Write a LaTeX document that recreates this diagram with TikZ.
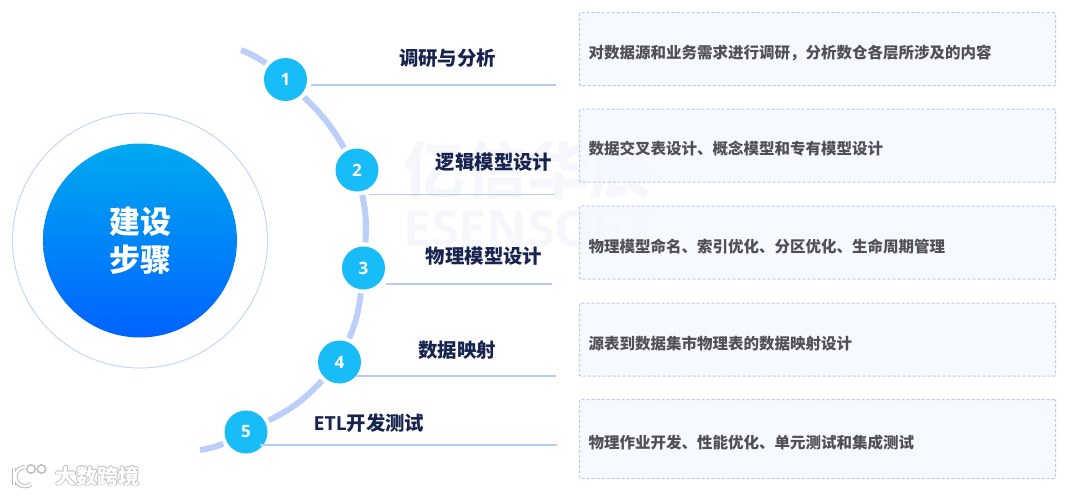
\documentclass[tikz,border=0pt]{standalone}
\usepackage{fontspec}
\setmainfont{Noto Sans CJK SC}
\setsansfont{Open Sans}
\usetikzlibrary{positioning}
\definecolor{trackblue}{HTML}{BCCFFB}
\definecolor{ringblue}{HTML}{BFD3F7}
\definecolor{stepblue}{HTML}{18BCF8}
\definecolor{linkblue}{HTML}{B4CAF7}
\definecolor{boxfill}{HTML}{F5F8FF}
\definecolor{boxline}{HTML}{B9C9F0}
\definecolor{titlenavy}{HTML}{182450}
\definecolor{descgray}{HTML}{50505A}
\definecolor{markblue}{HTML}{F5F7FD}
\definecolor{markgray}{HTML}{BDBDBD}
\definecolor{centertop}{HTML}{00AAF0}
\definecolor{centerbottom}{HTML}{0062FF}
\tikzset{
  stepnode/.style={circle,fill=stepblue,minimum size=43pt,inner sep=0pt,outer sep=4pt,text=white,font=\sffamily\bfseries\fontsize{17}{17}\selectfont},
  track/.style={draw=trackblue,line width=6pt},
  link/.style={draw=linkblue,line width=1.5pt},
  title/.style={text=titlenavy,font=\bfseries\fontsize{19.4}{19.4}\selectfont,inner sep=0pt},
  descbox/.style={draw=boxline,fill=boxfill,fill opacity=.9,dash pattern=on 3pt off 2pt,line width=1.1pt,rounded corners=1pt,minimum width=476pt,anchor=north west,inner sep=0pt},
  desc/.style={text=descgray,font=\bfseries\fontsize{15.5}{15.5}\selectfont,inner sep=0pt,anchor=west},
  logotext/.style={font=\bfseries\fontsize{21}{21}\selectfont,inner sep=0pt,anchor=west},
  logoo/.style={circle,line width=1.5pt,minimum size=8.5pt,inner sep=0pt},
}
\begin{document}
\begin{tikzpicture}[x=1pt,y=-1pt]
\useasboundingbox (0,0) rectangle (1080,496);

% faint mark behind
\node[text=markblue,font=\bfseries\fontsize{62}{62}\selectfont,inner sep=0pt] (markcn) at (527,170) {亿信华辰};
\node[text=markblue,font=\sffamily\bfseries\fontsize{50}{50}\selectfont,inner sep=0pt] (marken) at (527,229) {ESENSOFT};

% centre
\node[circle,draw=ringblue,line width=.9pt,minimum size=255pt,inner sep=0pt] (ring) at (140,240.5) {};
\node[circle,inner sep=0pt,minimum size=194pt,top color=centertop,bottom color=centerbottom,text=white,align=center,font=\bfseries\fontsize{31}{38}\selectfont] (center) at (140,240.5) {建设\\步骤};

% steps on the curve
\node[stepnode] (s1) at (285.5,79.5) {1};
\node[stepnode] (s2) at (357,170) {2};
\node[stepnode] (s3) at (363.5,268) {3};
\node[stepnode] (s4) at (339.5,362) {4};
\node[stepnode] (s5) at (246,432) {5};
\coordinate (top) at (241,50);
\coordinate (bottom) at (200,450);
\draw[track] (top) to[bend left=6] (s1);
\draw[track] (s1) to[bend left=8] (s2);
\draw[track] (s2) to[bend left=8] (s3);
\draw[track] (s3) to[bend left=8] (s4);
\draw[track] (s4) to[bend left=10] (s5);
\draw[track] (s5) to[bend left=6] (bottom);

% rules under the titles
\foreach \n/\xa/\xb/\y in {1/311/556/85,2/369/555/194.5,3/386/552/284,4/356/556/376,5/260/557/445}{
    \coordinate (a\n) at (\xa,\y);
    \coordinate (b\n) at (\xb,\y);
    \draw[link] (a\n)--(b\n);
}

\node[title] (t1) at (447.5,58) {调研与分析};
\node[title] (t2) at (494,162) {逻辑模型设计};
\node[title] (t3) at (484,256) {物理模型设计};
\node[title] (t4) at (457,350) {数据映射};
\node[title] (t5) at (369,423) {\sffamily ETL\rmfamily 开发测试};

% boxes on the right
\foreach \n/\y/\h/\txt in {1/12/73/对数据源和业务需求进行调研，分析数仓各层所涉及的内容,
    2/108.5/73/数据交叉表设计、概念模型和专有模型设计,
    3/205.5/73/物理模型命名、索引优化、分区优化、生命周期管理,
    4/302.5/73/源表到数据集市物理表的数据映射设计,
    5/399/79/物理作业开发、性能优化、单元测试和集成测试}{
    \node[descbox,minimum height=\h pt] (box\n) at (579,\y) {};
    \node[desc] (d\n) at ([xshift=9.5pt,yshift=-3.5pt]box\n.west) {\txt};
}

% logo bottom left
\foreach \n/\dx/\dy in {a/-.8/0,b/.8/0,c/0/-.8,d/0/.8,e/.9/.9}{
    \node[logotext,text=markgray] (shade\n) at (55+\dx,476+\dy) {大数跨境};
}
\node[logotext,text=white] (logotext) at (55,476) {大数跨境};
\draw[markgray,line width=4pt] (14,468)--(14,485);
\draw[markgray,line width=4.4pt] (31,484) arc (50:270:9.5);
\draw[white,line width=2.2pt] (14,468)--(14,485);
\draw[white,line width=2.4pt] (31,484) arc (50:270:9.5);
\node[logoo,draw=markgray] (logoa) at (31,469) {};
\node[logoo,draw=markgray,right=.5pt of logoa] (logob) {};
\end{tikzpicture}
\end{document}
